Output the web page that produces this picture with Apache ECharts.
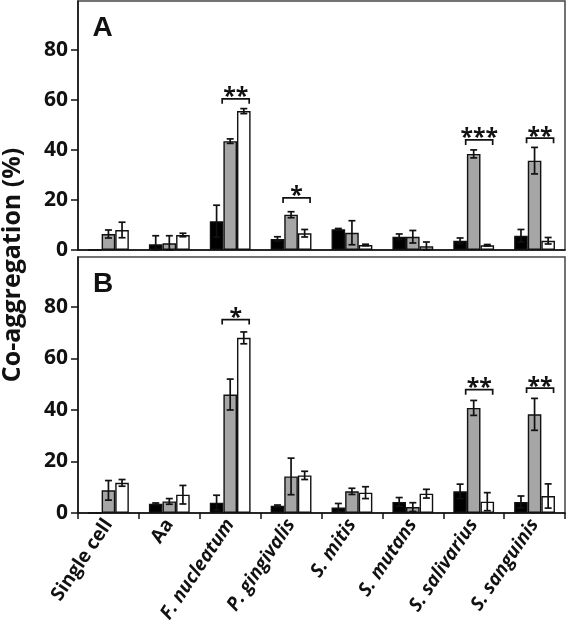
<!DOCTYPE html>
<html><head><meta charset="utf-8">
<script src="https://cdn.jsdelivr.net/npm/echarts@6/dist/echarts.min.js"></script>
<style>html,body{margin:0;padding:0;background:#fff}#c{width:566px;height:631px}</style>
</head><body><div id="c"></div>
<script>
const categories = ['Single cell','Aa','F. nucleatum','P. gingivalis','S. mitis','S. mutans','S. salivarius','S. sanguinis'];
const italicCats = [false,false,true,true,true,true,true,true];
const yTicks = [0,20,40,60,80];

// Panel A
const aBlack    = [0, 2.3, 11.5, 4.4, 8.3, 5.3, 3.7, 5.7];
const aBlackErr = [0, 3.4, 6.4, 0.9, 0.3, 1.1, 1.1, 2.5];
const aGray     = [6.4, 2.7, 43.5, 14.1, 6.9, 5.3, 38.4, 35.7];
const aGrayErr  = [1.6, 3.0, 0.9, 1.2, 4.8, 2.5, 1.6, 5.3];
const aWhite    = [8.0, 6.0, 55.5, 6.7, 2.0, 1.5, 1.9, 3.7];
const aWhiteErr = [3.1, 0.7, 1.0, 1.5, 0.3, 1.7, 0.3, 1.3];
const aSig = [[2, 60.4, '**'], [3, 20.8, '*'], [6, 44.0, '***'], [7, 44.7, '**']];

// Panel B
const bBlack    = [0, 3.6, 4.0, 2.8, 2.1, 4.3, 8.4, 4.3];
const bBlackErr = [0, 0.3, 2.9, 0.3, 1.6, 1.7, 2.8, 2.3];
const bGray     = [8.8, 4.5, 46.0, 14.2, 8.4, 2.3, 40.8, 38.3];
const bGrayErr  = [3.8, 1.1, 6.0, 7.1, 1.2, 1.7, 2.9, 6.2];
const bWhite    = [11.7, 7.1, 68.0, 14.6, 7.9, 7.5, 4.4, 6.6];
const bWhiteErr = [1.3, 3.6, 2.3, 1.6, 2.3, 1.7, 3.5, 4.7];
const bSig = [[2, 75.1, '*'], [6, 47.9, '**'], [7, 48.5, '**']];

const BW = 13.6;
const FONT = '"Open Sans", "Noto Sans", sans-serif';
const colors = ['#000000', '#a6a6a6', '#ffffff'];

function errRender(slot) {
  return function (params, api) {
    const cat = api.value(0), v = api.value(1), e = api.value(2);
    if (!e) return null;
    const c = api.coord([cat, v]);
    const x = c[0] + (slot - 1) * BW;
    const top = api.coord([cat, v + e])[1];
    const bot = api.coord([cat, Math.max(0, v - e)])[1];
    const hw = 3.5, st = {stroke: '#111', lineWidth: 1.7};
    return {type: 'group', children: [
      {type: 'line', shape: {x1: x, y1: top, x2: x, y2: bot}, style: st},
      {type: 'line', shape: {x1: x - hw, y1: top, x2: x + hw, y2: top}, style: st},
      {type: 'line', shape: {x1: x - hw, y1: bot, x2: x + hw, y2: bot}, style: st}
    ]};
  };
}
function makeSig(sig) {
  return function (params, api) {
    const cat = api.value(0), y = api.value(1);
    const txt = sig[params.dataIndex][2];
    const c = api.coord([cat, y]);
    const x1 = c[0] - 8, x2 = c[0] + 19, yy = c[1], st = {stroke: '#111', lineWidth: 1.7, fill: null};
    return {type: 'group', children: [
      {type: 'polyline', shape: {points: [[x1, yy + 5], [x1, yy], [x2, yy], [x2, yy + 5]]}, style: st},
      {type: 'text', style: {text: txt, x: (x1 + x2) / 2, y: yy - 1, align: 'center', verticalAlign: 'middle',
        font: 'bold 23px ' + FONT, fill: '#111'}}
    ]};
  };
}

const grids = [
  {left: 78, top: 1, width: 487, height: 249, show: true, borderColor: '#444', borderWidth: 1.5, backgroundColor: 'transparent'},
  {left: 78, top: 257, width: 487, height: 256, show: true, borderColor: '#444', borderWidth: 1.5, backgroundColor: 'transparent'}
];
const xAxes = [
  {type: 'category', gridIndex: 0, data: categories, boundaryGap: true,
   axisLine: {lineStyle: {color: '#111', width: 1.5}}, axisTick: {show: false}, axisLabel: {show: false}},
  {type: 'category', gridIndex: 1, data: categories, boundaryGap: true,
   axisLine: {lineStyle: {color: '#111', width: 1.5}},
   axisTick: {show: true, alignWithLabel: false, length: 6, lineStyle: {color: '#111', width: 1.5}},
   axisLabel: {show: true, rotate: 56, margin: 8, interval: 0,
     formatter: function (v, i) { return (italicCats[i] ? '{i|' : '{n|') + v + '}'; },
     rich: {
       n: {fontFamily: FONT, fontWeight: 'bold', fontSize: 19, color: '#111'},
       i: {fontFamily: FONT, fontWeight: 'bold', fontStyle: 'italic', fontSize: 19, color: '#111'}
     }}}
];
function yAxis(gi, max) {
  return {type: 'value', gridIndex: gi, min: 0, max: max,
    axisLine: {show: true, lineStyle: {color: '#111', width: 1.5}},
    axisTick: {show: true, length: 7, customValues: yTicks, lineStyle: {color: '#111', width: 1.5}},
    axisLabel: {show: true, customValues: yTicks, margin: 10, fontFamily: FONT, fontWeight: 'bold', fontSize: 21, color: '#111'},
    splitLine: {show: false}};
}
const yAxes = [yAxis(0, 99.5), yAxis(1, 99.4)];

function bar(gi, vals, ci) {
  return {type: 'bar', xAxisIndex: gi, yAxisIndex: gi, data: vals, barWidth: BW, barGap: '0%',
    itemStyle: {color: colors[ci], borderColor: '#111', borderWidth: 1.4}, silent: true, z: 2};
}
function err(gi, vals, errs, slot) {
  return {type: 'custom', xAxisIndex: gi, yAxisIndex: gi, renderItem: errRender(slot), z: 5, silent: true,
    data: categories.map((c, i) => [i, vals[i], errs[i]])};
}
function sig(gi, s) {
  return {type: 'custom', xAxisIndex: gi, yAxisIndex: gi, renderItem: makeSig(s), z: 6, silent: true,
    data: s.map(d => [d[0], d[1]])};
}

const option = {
  animation: false,
  backgroundColor: '#fff',
  grid: grids, xAxis: xAxes, yAxis: yAxes,
  series: [
    bar(0, aBlack, 0), bar(0, aGray, 1), bar(0, aWhite, 2),
    err(0, aBlack, aBlackErr, 0), err(0, aGray, aGrayErr, 1), err(0, aWhite, aWhiteErr, 2),
    sig(0, aSig),
    bar(1, bBlack, 0), bar(1, bGray, 1), bar(1, bWhite, 2),
    err(1, bBlack, bBlackErr, 0), err(1, bGray, bGrayErr, 1), err(1, bWhite, bWhiteErr, 2),
    sig(1, bSig)
  ],
  graphic: [
    {type: 'text', x: 13, y: 265, rotation: Math.PI / 2,
     style: {text: 'Co-aggregation (%)', align: 'center', verticalAlign: 'middle', font: 'bold 25px ' + FONT, fill: '#111'}},
    {type: 'text', x: 102.5, y: 28.5,
     style: {text: 'A', align: 'center', verticalAlign: 'middle', font: 'bold 28px "Liberation Sans", Arial, sans-serif', fill: '#111'}},
    {type: 'text', x: 103, y: 284,
     style: {text: 'B', align: 'center', verticalAlign: 'middle', font: 'bold 28px "Liberation Sans", Arial, sans-serif', fill: '#111'}}
  ]
};
const chart = echarts.init(document.getElementById('c'), null, {renderer: 'canvas'});
chart.setOption(option);
</script></body></html>
